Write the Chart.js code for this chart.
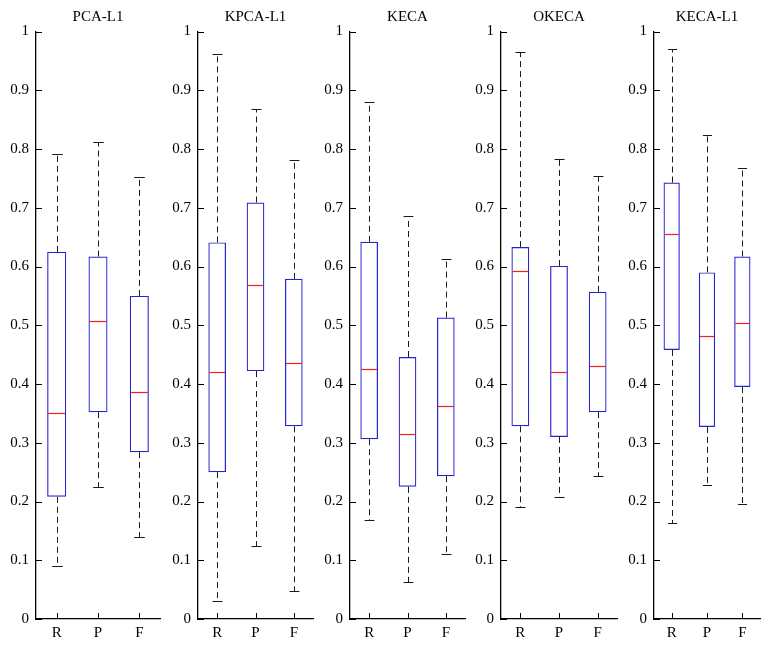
<!DOCTYPE html>
<html>
<head>
<meta charset="utf-8">
<script src="https://cdn.jsdelivr.net/npm/chart.js@4/dist/chart.umd.min.js"></script>
<style>
  html, body { margin: 0; padding: 0; background: #fff; }
  #wrap { position: relative; width: 771px; height: 648px; overflow: hidden; }
  #wrap canvas { position: absolute; top: 0; }
</style>
</head>
<body>
<div id="wrap"></div>
<script>
// データ ---------------
const categories = ["R", "P", "F"];
const methods = ["PCA-L1", "KPCA-L1", "KECA", "OKECA", "KECA-L1"];
const yTickLabels = ["0", "0.1", "0.2", "0.3", "0.4", "0.5", "0.6", "0.7", "0.8", "0.9", "1"];

// 各パネル × R,P,F
const whiskerLow  = [[0.090, 0.224, 0.140], [0.030, 0.125, 0.047], [0.168, 0.063, 0.110], [0.190, 0.208, 0.243], [0.163, 0.228, 0.195]];
const boxLow      = [[0.208, 0.352, 0.284], [0.250, 0.422, 0.328], [0.306, 0.225, 0.243], [0.328, 0.310, 0.352], [0.458, 0.327, 0.395]];
const medians     = [[0.351, 0.507, 0.386], [0.420, 0.569, 0.436], [0.426, 0.315, 0.363], [0.593, 0.420, 0.430], [0.655, 0.481, 0.504]];
const boxHigh     = [[0.625, 0.617, 0.550], [0.641, 0.709, 0.579], [0.642, 0.446, 0.513], [0.633, 0.601, 0.557], [0.743, 0.590, 0.617]];
const whiskerHigh = [[0.791, 0.812, 0.752], [0.962, 0.868, 0.782], [0.880, 0.686, 0.613], [0.965, 0.783, 0.754], [0.970, 0.824, 0.768]];

// レイアウト（軸の左端と右端、px）
const axisLeft  = [36, 198, 350, 501, 654];
const axisRight = [160, 313, 465, 617, 760];
const yAxisWidth = 36;
const serif = "'Liberation Serif', 'DejaVu Serif', serif";

// ヒゲ・中央値・内向きの目盛りを描くプラグイン
const boxWhiskers = {
  id: "boxWhiskers",
  afterDatasetsDraw(chart, args, opts) {
    const k = opts.panel;
    const xs = chart.scales.x;
    const ys = chart.scales.y;
    const ctx = chart.ctx;
    const meta = chart.getDatasetMeta(0);
    ctx.save();

    // 目盛り（内向き）
    ctx.strokeStyle = "#000";
    ctx.lineWidth = 1;
    ctx.beginPath();
    ys.ticks.forEach(t => {
      const y = Math.round(ys.getPixelForValue(t.value)) + 0.5;
      ctx.moveTo(ys.right, y);
      ctx.lineTo(ys.right + 6, y);
    });
    categories.forEach((_, i) => {
      const x = Math.round(xs.getPixelForValue(i)) + 0.5;
      ctx.moveTo(x, xs.top);
      ctx.lineTo(x, xs.top - 6);
    });
    ctx.stroke();

    meta.data.forEach((bar, i) => {
      const x = Math.round(bar.x) + 0.5;
      const half = bar.width / 2;
      const cap = half * 0.56;
      const yTop = ys.getPixelForValue(boxHigh[k][i]);
      const yBot = ys.getPixelForValue(boxLow[k][i]);
      const yHi = Math.round(ys.getPixelForValue(whiskerHigh[k][i])) + 0.5;
      const yLo = Math.round(ys.getPixelForValue(whiskerLow[k][i])) + 0.5;
      const yMed = Math.round(ys.getPixelForValue(medians[k][i])) + 0.5;

      // 破線のヒゲ
      ctx.strokeStyle = "#1a1a1a";
      ctx.lineWidth = 1;
      ctx.setLineDash([6, 4]);
      ctx.beginPath();
      ctx.moveTo(x, yTop);
      ctx.lineTo(x, yHi);
      ctx.moveTo(x, yBot);
      ctx.lineTo(x, yLo);
      ctx.stroke();

      // キャップ
      ctx.setLineDash([]);
      ctx.beginPath();
      ctx.moveTo(x - cap, yHi);
      ctx.lineTo(x + cap, yHi);
      ctx.moveTo(x - cap, yLo);
      ctx.lineTo(x + cap, yLo);
      ctx.stroke();

      // 中央値
      ctx.strokeStyle = "#f02020";
      ctx.lineWidth = 1.2;
      ctx.beginPath();
      ctx.moveTo(bar.x - half + 1, yMed);
      ctx.lineTo(bar.x + half - 1, yMed);
      ctx.stroke();
    });
    ctx.restore();
  }
};

const wrap = document.getElementById("wrap");

methods.forEach((name, k) => {
  const canvas = document.createElement("canvas");
  const w = axisRight[k] - axisLeft[k] + yAxisWidth + 2;
  canvas.width = w;
  canvas.height = 648;
  canvas.style.left = (axisLeft[k] - yAxisWidth) + "px";
  canvas.style.width = w + "px";
  canvas.style.height = "648px";
  wrap.appendChild(canvas);

  new Chart(canvas.getContext("2d"), {
    type: "bar",
    data: {
      labels: categories,
      datasets: [{
        data: categories.map((_, i) => [boxLow[k][i], boxHigh[k][i]]),
        backgroundColor: "rgba(255,255,255,0)",
        borderColor: "#2424d0",
        borderWidth: 1.2,
        borderSkipped: false,
        barPercentage: 0.46,
        categoryPercentage: 1
      }]
    },
    options: {
      responsive: false,
      animation: false,
      layout: { padding: { left: 0, right: 2, top: 0, bottom: 0 } },
      plugins: {
        legend: { display: false },
        tooltip: { enabled: false },
        title: {
          display: true,
          text: name,
          fullSize: false,
          color: "#000",
          font: { family: serif, size: 15, weight: "normal", lineHeight: 1.2 },
          padding: { top: 8.5, bottom: 5 }
        },
        boxWhiskers: { panel: k }
      },
      scales: {
        x: {
          type: "category",
          offset: true,
          grid: { display: false, drawTicks: false, tickLength: 0 },
          border: { display: true, color: "#000", width: 1.3 },
          ticks: {
            color: "#000",
            padding: 5,
            maxRotation: 0,
            font: { family: serif, size: 15 }
          },
          afterFit: s => { s.height = 29; }
        },
        y: {
          min: 0,
          max: 1,
          grid: { display: false, drawTicks: false, tickLength: 0 },
          border: { display: true, color: "#000", width: 1.3 },
          ticks: {
            stepSize: 0.1,
            color: "#000",
            padding: 7,
            font: { family: serif, size: 15 },
            callback: (v, i) => yTickLabels[i]
          },
          afterFit: s => { s.width = yAxisWidth; }
        }
      }
    },
    plugins: [boxWhiskers]
  });
});
</script>
</body>
</html>
